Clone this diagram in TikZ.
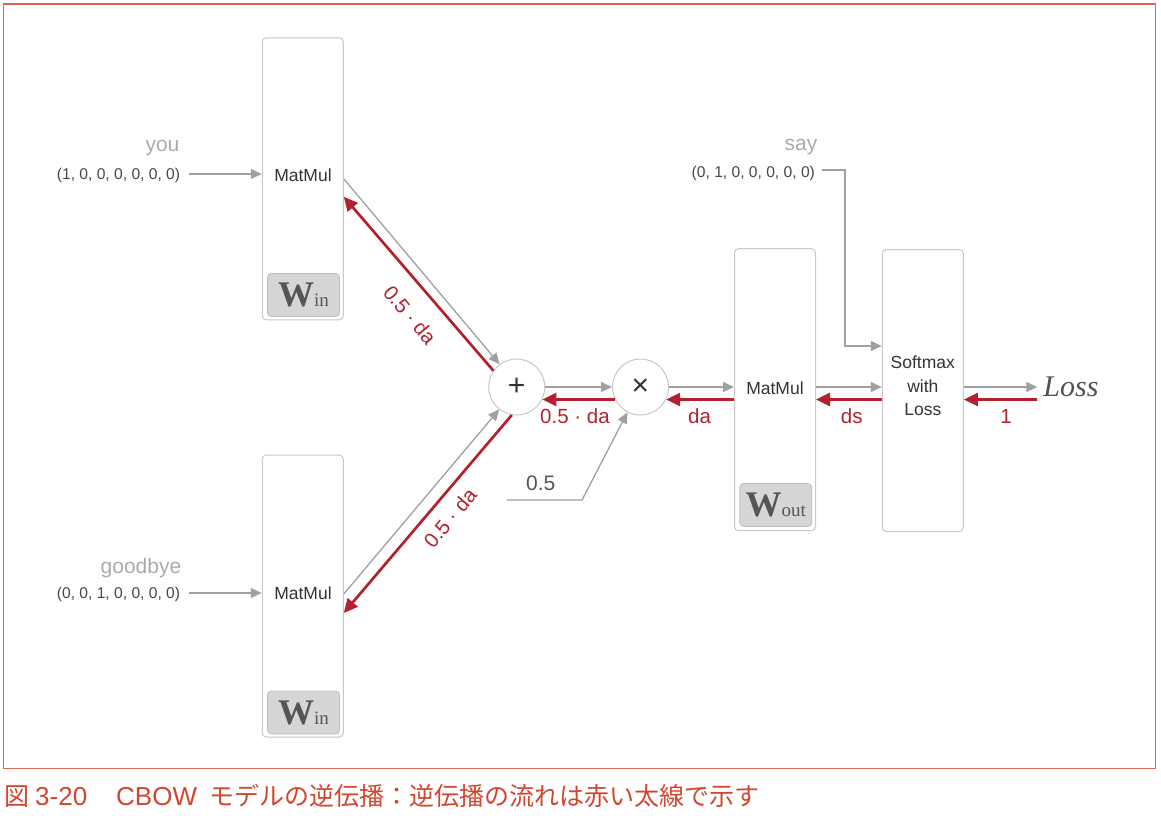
\documentclass[tikz,border=0pt]{standalone}
\usepackage{fontspec}
\setmainfont{Liberation Sans}
\newfontfamily\serifW{Liberation Serif}
\newfontfamily\cjkfont{Noto Sans CJK JP}
\usetikzlibrary{arrows.meta,calc}
\definecolor{bred}{HTML}{B3212F}
\definecolor{agray}{HTML}{A0A0A0}
\definecolor{bgray}{HTML}{C8C8C8}
\definecolor{wgray}{HTML}{D6D6D6}
\definecolor{wline}{HTML}{BDBDBD}
\definecolor{tgray}{HTML}{ABABAB}
\definecolor{tdark}{HTML}{333333}
\definecolor{tmid}{HTML}{555555}
\definecolor{framered}{HTML}{DE6656}
\definecolor{capred}{HTML}{D2452F}
\newcommand\fsz[2]{\fontsize{#1}{#2}\selectfont}
\newcommand\Wlbl[1]{{\serifW\fsz{36}{36}\bfseries W}{\serifW\fsz{19}{19}#1}}
\begin{document}
\begin{tikzpicture}[x=1pt,y=-1pt,
  box/.style={draw=bgray, line width=1pt, rounded corners=4pt, minimum width=81pt, minimum height=282pt, inner sep=0pt, fill=white},
  wbox/.style={draw=wline, line width=0.8pt, fill=wgray, rounded corners=4pt, minimum width=72pt, minimum height=43pt, inner sep=0pt, text=tmid},
  op/.style={circle, draw=bgray, line width=1pt, fill=white, minimum size=56pt, inner sep=0pt, font=\fsz{30}{32}, text=tdark},
  garr/.style={draw=agray, line width=1.3pt, -{Triangle[length=11pt,width=10pt]}},
  rarr/.style={draw=bred, line width=2.7pt, -{Triangle[length=14pt,width=13pt]}},
  gline/.style={draw=agray, line width=1.3pt},
  rlbl/.style={text=bred, font=\fsz{20.5}{24}, inner sep=1pt},
  vec/.style={text=tdark!90, font=\fsz{15.6}{18}, anchor=base},
  word/.style={text=tgray, font=\fsz{21}{24}, anchor=base},
  boxtxt/.style={text=tdark, font=\fsz{17.5}{23.5}, align=center}
]
\useasboundingbox (0,0) rectangle (1161,815);
% frame
\draw[framered, line width=1.3pt] (3.5,4) rectangle (1155.5,768.5);
\node[anchor=base west, text=capred, font=\fsz{25}{28}, inner sep=0pt] (caption) at (4,805.5)
  {{\cjkfont 図}\hspace{6pt}{\fsz{26}{28}3-20}\hspace{29pt}{\fsz{26}{28}CBOW}\hspace{12pt}{\cjkfont モデルの逆伝播：逆伝播の流れは赤い太線で示す}};

% boxes
\node[box] (win1) at (302.75,178.75) {};
\node[boxtxt, anchor=base] (mm1) at (303,181) {MatMul};
\node[wbox] (w1) at (303.5,295) {\Wlbl{in}};

\node[box] (win2) at (302.75,596) {};
\node[boxtxt, anchor=base] (mm2) at (303,599) {MatMul};
\node[wbox] (w2) at (303.5,712.5) {\Wlbl{in}};

\node[box] (wout) at (775,389.7) {};
\node[boxtxt, anchor=base] (mm3) at (775,394.4) {MatMul};
\node[wbox] (w3) at (775.8,505) {\Wlbl{out}};

\node[box] (soft) at (922.8,390.5) {};
\node[boxtxt] (smtxt) at (922.8,386) {Softmax\\with\\Loss};

% operators
\node[op] (plus) at (516.7,387) {+};
\node[op] (times) at (640.5,387) {×};

% inputs
\node[word] (you) at (162.5,151.5) {you};
\node[vec] (youvec) at (118.5,179.3) {(1, 0, 0, 0, 0, 0, 0)};
\node[word] (goodbye) at (141,573.5) {goodbye};
\node[vec] (gbvec) at (118.5,598.3) {(0, 0, 1, 0, 0, 0, 0)};
\node[word] (say) at (801,150.5) {say};
\node[vec] (sayvec) at (753.3,177) {(0, 1, 0, 0, 0, 0, 0)};
\coordinate (sayturn) at (845,346);

\node[text=tmid, font=\fsz{21}{24}, anchor=base] (half) at (540.7,490) {0.5};
\coordinate (h0) at (507,500);
\coordinate (h1) at (582,500);

\node[text=tdark!85, font=\serifW\itshape\fsz{30}{30}, inner sep=6pt, anchor=base] (loss) at (1071,396.5) {Loss};

% forward (gray) connectors
\draw[garr] ([xshift=5pt]youvec.east |- 0,174) -- (win1.west |- 0,174);
\draw[garr] ([xshift=5pt]gbvec.east |- 0,593) -- (win2.west |- 0,593);
\draw[garr] ([xshift=4pt]sayvec.east |- 0,170) -| (sayturn) -- (sayturn -| soft.west);
\draw[garr] (win1.east) -- (plus.127);
\draw[garr] ([yshift=2pt]win2.east) -- (plus.232);
\draw[garr] (plus.east) -- (times.west);
\draw[garr] (h0) -- (h1) -- (times);
\draw[garr] (times.east) -- (times.east -| wout.west);
\draw[garr] (wout.east |- times.east) -- (soft.west |- times.east);
\draw[garr] (soft.east |- times.east) -- (loss.west |- times.east);

% backward (red) connectors
\draw[rarr] (loss.west |- times.334) -- (soft.east |- times.334);
\draw[rarr] (soft.west |- times.334) -- (wout.east |- times.334);
\draw[rarr] (times.334 -| wout.west) -- (times.334);
\draw[rarr] (times.206) -- (plus.334);
\draw[rarr] (plus.145) -- ([yshift=-18pt]win1.east);
\draw[rarr] (plus.260) -- ([yshift=-17pt]win2.east);

% red labels
\node[rlbl, anchor=base] (l1) at (1006,423.5) {1};
\node[rlbl, anchor=base] (lds) at (851.7,423.5) {ds};
\node[rlbl, anchor=base] (lda) at (699.5,423.5) {da};
\node[rlbl, anchor=base] (lhda) at (575,423) {0.5 · da};
\node[rlbl, rotate=-50] (ltop) at (410,315) {0.5 · da};
\node[rlbl, rotate=50] (lbot) at (450,518) {0.5 · da};
\end{tikzpicture}
\end{document}
